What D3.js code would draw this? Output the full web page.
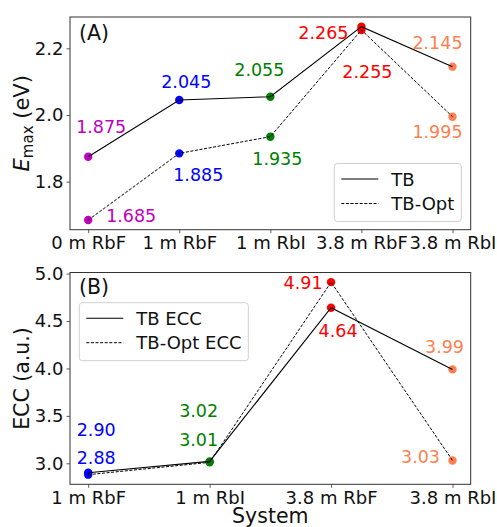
<!DOCTYPE html>
<html>
<head>
<meta charset="utf-8">
<script src="https://cdn.jsdelivr.net/npm/d3@7"></script>
<style>
  body { margin: 0; background: #fff; }
  svg { display: block; font-family: "DejaVu Sans", sans-serif; }
</style>
</head>
<body>
<div id="chart"></div>
<script>
// panel A data
const categoriesA = ['0 m RbF', '1 m RbF', '1 m RbI', '3.8 m RbF', '3.8 m RbI'];
const tbA = [1.875, 2.045, 2.055, 2.265, 2.145];
const tbOptA = [1.685, 1.885, 1.935, 2.255, 1.995];
const ticksA = [1.8, 2.0, 2.2];

// panel B data
const categoriesB = ['1 m RbF', '1 m RbI', '3.8 m RbF', '3.8 m RbI'];
const tbEcc = [2.90, 3.02, 4.64, 3.99];
const tbOptEcc = [2.88, 3.01, 4.91, 3.03];
const ticksB = [3.0, 3.5, 4.0, 4.5, 5.0];

const colorsA = ['#bf00bf', '#0000ff', '#008000', '#ff0000', '#ff7f50'];
const colorsB = ['#0000ff', '#008000', '#ff0000', '#ff7f50'];

// label offsets (dx, dy) from each point
const offTbA = [[13, -30], [7, -18], [-11, -27], [-38, 6], [-15, -24]];
const offOptA = [[43, -4], [19, 22], [7, 22], [6, 42], [-15, 15]];
const offTbB = [[8, -43], [-11, -50], [7, 23], [-8, -22]];
const offOptB = [[8, -17], [-11, -22], [-28, 1], [-32, -3]];

const W = 497, H = 527;
const fontSize = 17.5;
const tickSize = 18;

const svg = d3.select('#chart').append('svg')
    .attr('width', W)
    .attr('height', H);

function padDomain(arrs) {
    const all = [].concat(...arrs);
    const lo = d3.min(all), hi = d3.max(all);
    const m = (hi - lo) * 0.05;
    return [lo - m, hi + m];
}

function panel(opt) {
    const g = svg.append('g');
    const x = d3.scalePoint()
        .domain(opt.cats)
        .range([opt.left, opt.right])
        .padding(opt.pad);
    const y = d3.scaleLinear()
        .domain(padDomain([opt.s1, opt.s2]))
        .range([opt.bottom, opt.top]);

    // axes
    const xa = g.append('g')
        .attr('transform', `translate(0,${opt.bottom})`)
        .call(d3.axisBottom(x).tickSize(3.5).tickPadding(3));
    const ya = g.append('g')
        .attr('transform', `translate(${opt.left},0)`)
        .call(d3.axisLeft(y).tickValues(opt.ticks).tickSize(3.5).tickPadding(3).tickFormat(d3.format('.1f')));
    [xa, ya].forEach(a => {
        a.select('.domain').remove();
        a.selectAll('line').attr('stroke', '#333').attr('stroke-width', 0.8);
        a.selectAll('text').attr('font-size', tickSize).attr('fill', '#111').attr('font-family', 'DejaVu Sans');
    });

    g.append('rect')
        .attr('x', opt.left).attr('y', opt.top)
        .attr('width', opt.right - opt.left).attr('height', opt.bottom - opt.top)
        .attr('fill', 'none').attr('stroke', '#333').attr('stroke-width', 1);

    // markers
    [opt.s1, opt.s2].forEach(s => {
        g.selectAll(null).data(s).enter().append('circle')
            .attr('cx', (d, i) => x(opt.cats[i]))
            .attr('cy', d => y(d))
            .attr('r', 4.2)
            .attr('fill', (d, i) => opt.colors[i]);
    });

    // lines
    const line = d3.line()
        .x((d, i) => x(opt.cats[i]))
        .y(d => y(d));
    g.append('path').datum(opt.s1)
        .attr('d', line).attr('fill', 'none')
        .attr('stroke', '#000').attr('stroke-width', 1.1);
    g.append('path').datum(opt.s2)
        .attr('d', line).attr('fill', 'none')
        .attr('stroke', '#000').attr('stroke-width', 1)
        .attr('stroke-dasharray', '3,1.6');

    // value labels
    [[opt.s1, opt.off1], [opt.s2, opt.off2]].forEach(([s, off]) => {
        g.selectAll(null).data(s).enter().append('text')
            .attr('x', (d, i) => x(opt.cats[i]) + off[i][0])
            .attr('y', (d, i) => y(d) + off[i][1])
            .attr('text-anchor', 'middle')
            .attr('dominant-baseline', 'central')
            .attr('font-size', fontSize)
            .attr('fill', (d, i) => opt.colors[i])
            .text(d => opt.fmt(d));
    });

    // panel letter
    g.append('text')
        .attr('x', opt.left + 9).attr('y', opt.top + opt.letterDy)
        .attr('dominant-baseline', 'central')
        .attr('font-size', 20.5)
        .attr('fill', '#111')
        .text(opt.letter);

    // legend
    const lg = g.append('g').attr('transform', `translate(${opt.legX},${opt.legY})`);
    lg.append('rect')
        .attr('width', opt.legW).attr('height', 58)
        .attr('rx', 3)
        .attr('fill', 'rgba(255,255,255,0.8)')
        .attr('stroke', '#d0d0d0').attr('stroke-width', 1);
    opt.legLabels.forEach((t, i) => {
        const yy = 15.5 + i * 24.5;
        lg.append('line')
            .attr('x1', 7).attr('x2', 44).attr('y1', yy).attr('y2', yy)
            .attr('stroke', '#000').attr('stroke-width', i ? 1 : 1.1)
            .attr('stroke-dasharray', i ? '3,1.6' : null);
        lg.append('text')
            .attr('x', 57).attr('y', yy)
            .attr('dominant-baseline', 'central')
            .attr('font-size', tickSize)
            .attr('fill', '#111')
            .text(t);
    });
    return g;
}

panel({
    cats: categoriesA, s1: tbA, s2: tbOptA, ticks: ticksA, colors: colorsA,
    off1: offTbA, off2: offOptA, fmt: d3.format('.3f'),
    left: 70, right: 470.7, top: 17, bottom: 229.7, pad: 0.2,
    letter: '(A)', letterDy: 16, legX: 334.3, legY: 163.5, legW: 127, legLabels: ['TB', 'TB-Opt']
});

panel({
    cats: categoriesB, s1: tbEcc, s2: tbOptEcc, ticks: ticksB, colors: colorsB,
    off1: offTbB, off2: offOptB, fmt: d3.format('.2f'),
    left: 70, right: 470.7, top: 272.5, bottom: 484.3, pad: 0.15,
    letter: '(B)', letterDy: 14.5, legX: 79.3, legY: 302.7, legW: 169, legLabels: ['TB ECC', 'TB-Opt ECC']
});

// axis titles
const yl = svg.append('text')
    .attr('transform', 'translate(29,123.3) rotate(-90)')
    .attr('text-anchor', 'middle')
    .attr('font-size', 21)
    .attr('fill', '#111');
yl.append('tspan').attr('font-style', 'italic').text('E');
yl.append('tspan').attr('font-size', 15).attr('dy', 4).text('max');
yl.append('tspan').attr('dy', -4).text(' (eV)');

svg.append('text')
    .attr('transform', 'translate(29,378.5) rotate(-90)')
    .attr('text-anchor', 'middle')
    .attr('font-size', 20.5)
    .attr('fill', '#111')
    .text('ECC (a.u.)');

svg.append('text')
    .attr('x', 270.3).attr('y', 523)
    .attr('text-anchor', 'middle')
    .attr('font-size', 20.5)
    .attr('fill', '#111')
    .text('System');
</script>
</body>
</html>
